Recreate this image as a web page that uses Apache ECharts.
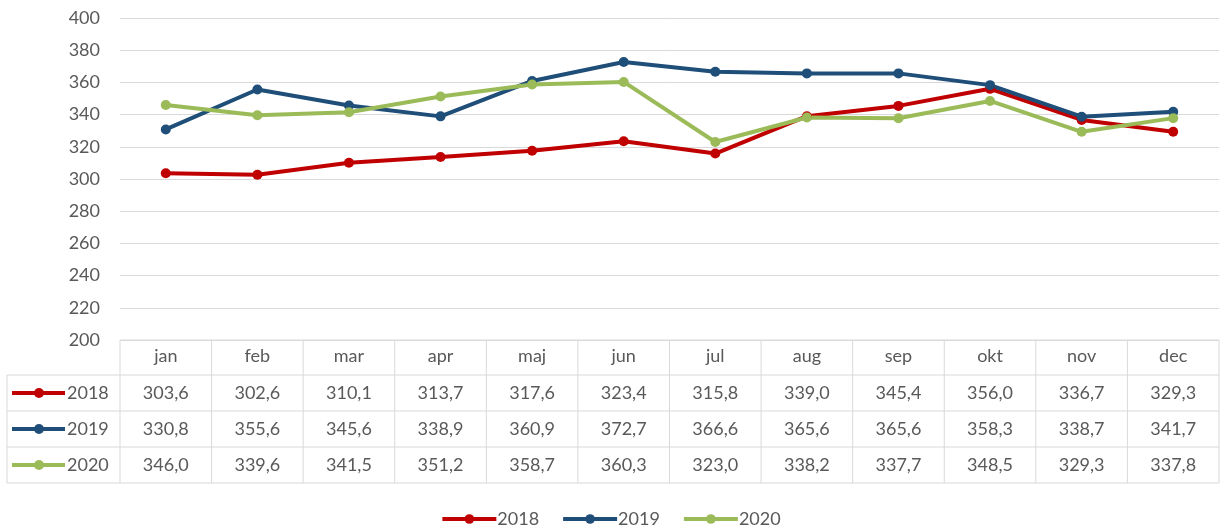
<!DOCTYPE html>
<html>
<head>
<meta charset="utf-8">
<script src="https://cdn.jsdelivr.net/npm/echarts@6/dist/echarts.min.js"></script>
<style>
  html, body { margin: 0; padding: 0; background: #fff; }
  #main { width: 1221px; height: 529px; }
</style>
</head>
<body>
<div id="main"></div>
<script>
const months = ['jan', 'feb', 'mar', 'apr', 'maj', 'jun', 'jul', 'aug', 'sep', 'okt', 'nov', 'dec'];
const years = ['2018', '2019', '2020'];
const values2018 = [303.6, 302.6, 310.1, 313.7, 317.6, 323.4, 315.8, 339.0, 345.4, 356.0, 336.7, 329.3];
const values2019 = [330.8, 355.6, 345.6, 338.9, 360.9, 372.7, 366.6, 365.6, 365.6, 358.3, 338.7, 341.7];
const values2020 = [346.0, 339.6, 341.5, 351.2, 358.7, 360.3, 323.0, 338.2, 337.7, 348.5, 329.3, 337.8];
const colors = ['#c00000', '#1f4e79', '#9bbb59'];

const allValues = [values2018, values2019, values2020];
const font = 'Lato, "Noto Sans", sans-serif';
const textColor = '#595959';
const gridColor = '#d9d9d9';

const chart = echarts.init(document.getElementById('main'));

const option = {
    animation: false,
    color: colors,
    grid: { left: 120, right: 2, top: 18, bottom: 189 },
    xAxis: {
        type: 'category',
        data: months,
        boundaryGap: true,
        axisLine: { show: false },
        axisTick: { show: false },
        axisLabel: {
            margin: 7,
            color: textColor,
            fontSize: 18,
            fontFamily: font
        }
    },
    yAxis: {
        type: 'value',
        min: 200,
        max: 400,
        interval: 20,
        axisLine: { show: false },
        axisTick: { show: false },
        axisLabel: {
            margin: 20,
            color: textColor,
            fontSize: 18,
            fontFamily: font
        },
        splitLine: { lineStyle: { color: gridColor, width: 1 } }
    },
    legend: {
        top: 505,
        left: 'center',
        itemWidth: 54,
        itemHeight: 12,
        itemGap: 22,
        lineStyle: { width: 4 },
        textStyle: { color: textColor, fontSize: 18, fontFamily: font, padding: [0, 0, 0, -4] },
        data: years
    },
    series: years.map((y, k) => ({
        name: y,
        type: 'line',
        data: allValues[k],
        symbol: 'circle',
        symbolSize: 10,
        lineStyle: { width: 4 },
        itemStyle: { color: colors[k] }
    }))
};

chart.setOption(option);

// data table below the plot, lined up with the category bands
const xs = months.map((m, i) => chart.convertToPixel({ xAxisIndex: 0 }, i));
const band = xs[1] - xs[0];
const tLeft = xs[0] - band / 2;
const tRight = xs[xs.length - 1] + band / 2;
const tTop = chart.convertToPixel({ yAxisIndex: 0 }, 200);
const rowEdges = [tTop, tTop + 35, tTop + 71, tTop + 107, tTop + 143];
const labelLeft = 7;
const lineStyle = { stroke: gridColor, lineWidth: 1 };

const graphics = [];
// horizontal lines
graphics.push({ type: 'line', shape: { x1: tLeft, y1: rowEdges[0], x2: tRight, y2: rowEdges[0] }, style: lineStyle });
for (let r = 1; r < rowEdges.length; r++) {
    graphics.push({ type: 'line', shape: { x1: labelLeft, y1: rowEdges[r], x2: tRight, y2: rowEdges[r] }, style: lineStyle });
}
// vertical lines
graphics.push({ type: 'line', shape: { x1: labelLeft, y1: rowEdges[1], x2: labelLeft, y2: rowEdges[4] }, style: lineStyle });
for (let i = 0; i <= months.length; i++) {
    const x = tLeft + i * band;
    graphics.push({ type: 'line', shape: { x1: x, y1: rowEdges[0], x2: x, y2: rowEdges[4] }, style: lineStyle });
}
// rows
years.forEach((y, k) => {
    const cy = (rowEdges[k + 1] + rowEdges[k + 2]) / 2;
    graphics.push({ type: 'line', shape: { x1: 12, y1: cy, x2: 65, y2: cy }, style: { stroke: colors[k], lineWidth: 4 } });
    graphics.push({ type: 'circle', shape: { cx: 39, cy: cy, r: 5 }, style: { fill: colors[k] } });
    graphics.push({
        type: 'text', x: 67, y: cy,
        style: { text: y, fill: textColor, font: '18px ' + font, verticalAlign: 'middle', align: 'left' }
    });
    allValues[k].forEach((v, i) => {
        graphics.push({
            type: 'text', x: xs[i], y: cy,
            style: { text: v.toFixed(1).replace('.', ','), fill: textColor, font: '18px ' + font, verticalAlign: 'middle', align: 'center' }
        });
    });
});

chart.setOption({ graphic: graphics });
</script>
</body>
</html>
